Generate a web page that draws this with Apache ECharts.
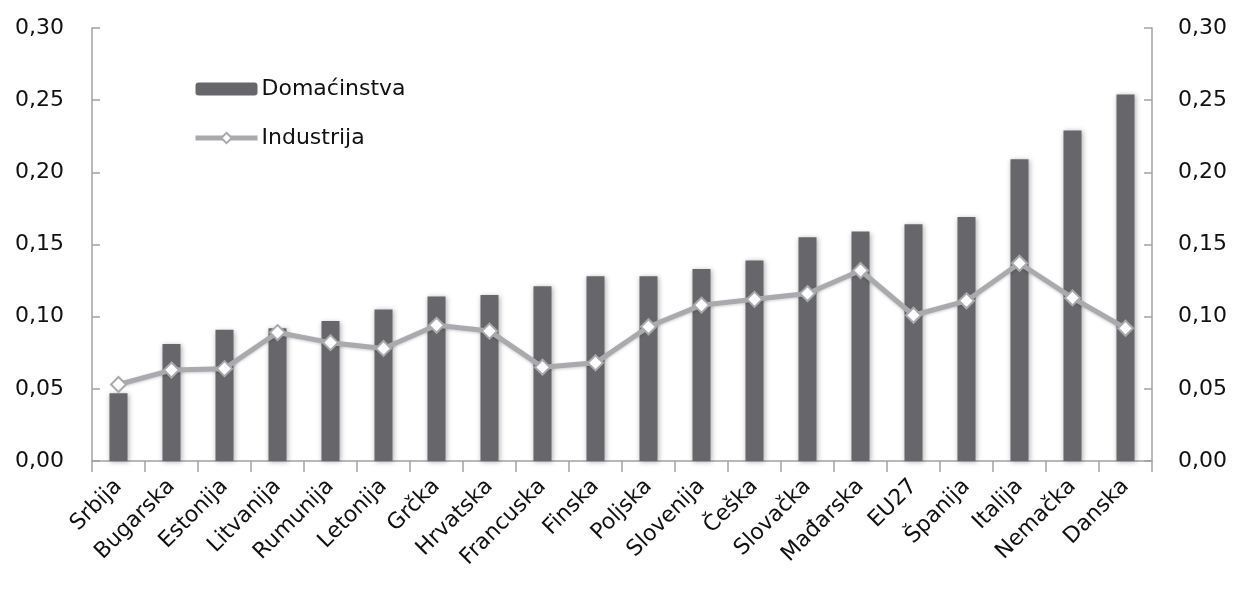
<!DOCTYPE html>
<html>
<head>
<meta charset="utf-8">
<script src="https://cdn.jsdelivr.net/npm/echarts@6/dist/echarts.min.js"></script>
<style>html,body{margin:0;padding:0;background:#fff;}#c{width:1234px;height:610px;}</style>
</head>
<body>
<div id="c"></div>
<script>
var categories = ['Srbija','Bugarska','Estonija','Litvanija','Rumunija','Letonija','Grčka','Hrvatska','Francuska','Finska','Poljska','Slovenija','Češka','Slovačka','Mađarska','EU27','Španija','Italija','Nemačka','Danska'];
var domacinstva = [0.047,0.081,0.091,0.092,0.097,0.105,0.114,0.115,0.121,0.128,0.128,0.133,0.139,0.155,0.159,0.164,0.169,0.209,0.229,0.254];
var industrija = [0.053,0.063,0.064,0.089,0.082,0.078,0.094,0.090,0.065,0.068,0.093,0.108,0.112,0.116,0.132,0.101,0.111,0.137,0.113,0.092];
var yMin = 0, yMax = 0.30, yStep = 0.05;

var FONT = 'DejaVu Sans';
var LINE_COLOR = '#a8aaad';
function fmt(v){ return v.toFixed(2).replace('.', ','); }
var chart = echarts.init(document.getElementById('c'));
function yAxisOf(pos, margin){
  return {
    type: 'value', position: pos, min: yMin, max: yMax, interval: yStep,
    axisLine: { show: true, lineStyle: { color: '#a3a3a6', width: 1.5 } },
    axisTick: { show: true, inside: true, length: 8, lineStyle: { color: '#a3a3a6', width: 1.5 } },
    splitLine: { show: false },
    axisLabel: { formatter: fmt, color: '#111', fontFamily: FONT, fontSize: 22, margin: margin }
  };
}
chart.setOption({
  animation: false,
  grid: { left: 92, right: 82, top: 28, bottom: 149 },
  legend: {
    orient: 'vertical', left: 188, top: 73, itemWidth: 62, itemHeight: 13, itemGap: 27,
    textStyle: { fontFamily: FONT, fontSize: 22, color: '#111', padding: [0,0,0,-1] },
    data: [
      { name: 'Domaćinstva' },
      { name: 'Industrija', lineStyle: { width: 5, color: LINE_COLOR } }
    ]
  },
  xAxis: {
    type: 'category', data: categories,
    axisLine: { lineStyle: { color: '#a3a3a6', width: 1.5 } },
    axisTick: { show: true, length: 11, lineStyle: { color: '#a3a3a6', width: 1.5 } },
    axisLabel: { rotate: 45, interval: 0, color: '#111', fontFamily: FONT, fontSize: 22, margin: 22 }
  },
  yAxis: [ yAxisOf('left', 28), yAxisOf('right', 26) ],
  series: [
    {
      name: 'Domaćinstva', type: 'bar', data: domacinstva, barWidth: '34%',
      itemStyle: { color: '#67676b', shadowBlur: 5, shadowColor: 'rgba(0,0,0,0.3)', shadowOffsetX: 1, shadowOffsetY: 1 }
    },
    {
      name: 'Industrija', type: 'line', data: industrija,
      symbol: 'diamond', symbolSize: 15,
      lineStyle: { color: LINE_COLOR, width: 5, shadowBlur: 3, shadowColor: 'rgba(0,0,0,0.2)', shadowOffsetY: 1 },
      itemStyle: { color: '#ffffff', borderColor: LINE_COLOR, borderWidth: 2 }
    }
  ]
});
</script>
</body>
</html>
